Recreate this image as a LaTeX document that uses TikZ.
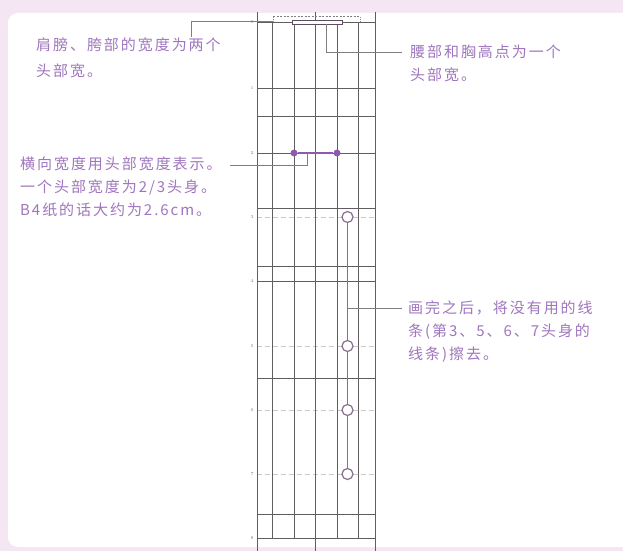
\documentclass[tikz,border=0pt]{standalone}
\usepackage{fontspec}
\newfontfamily\cjk[LetterSpace=13]{Noto Sans CJK SC}
\definecolor{bgpink}{RGB}{244,230,243}
\definecolor{txtpurple}{RGB}{160,118,190}
\definecolor{gridgray}{RGB}{95,95,95}
\definecolor{faintgray}{RGB}{200,200,200}
\definecolor{dotpurple}{RGB}{140,90,175}
\definecolor{ringpurple}{RGB}{135,110,140}
\tikzset{
  txt/.style={anchor=base west, inner sep=0pt, text=txtpurple, font=\cjk\fontsize{15}{17}\selectfont},
  gridline/.style={draw=gridgray, line width=0.8pt},
  faintline/.style={draw=faintgray, line width=0.7pt, dash pattern=on 5pt off 3pt},
  callout/.style={draw=gridgray!80, line width=0.7pt},
  rowlab/.style={anchor=east, inner sep=0pt, text=gray, font=\fontsize{4.5}{5}\selectfont},
  pdot/.style={circle, fill=dotpurple, inner sep=0pt, minimum size=7pt},
  ring/.style={circle, draw=ringpurple, fill=white, line width=1.2pt, inner sep=0pt, minimum size=11pt},
}
\begin{document}
\begin{tikzpicture}[x=1pt,y=-1pt]
\useasboundingbox (0,0) rectangle (623,551);
\clip (0,0) rectangle (623,551);
\fill[bgpink] (0,0) rectangle (623,551);
\fill[white, rounded corners=10pt] (8,13) rectangle (660,547);

% grid: horizontal solid lines
\foreach \yy in {22.5,88,116,153,208,266,281,378,514,538}
  \draw[gridline] (257,\yy) -- (375,\yy);
% faint lines at heads 3,5,6,7
\foreach \yy in {217,346,410,474}
  \draw[faintline] (257,\yy) -- (375,\yy);
% vertical lines
\foreach \xx in {257,315.5,375}
  \draw[gridline] (\xx,12) -- (\xx,551);
\foreach \xx in {272.5,294,337,358.5}
  \draw[gridline] (\xx,22.5) -- (\xx,538);

% row labels
\foreach \lab/\yy in {0/22.5,1/88,2/153,3/217,4/281,5/346,6/410,7/474,8/538}
  \node[rowlab] (r\lab) at (254,\yy) {\lab};

% top dashed line with end ticks
\coordinate (tdl) at (273,16);
\coordinate (tdr) at (360,16);
\draw[gridgray!80, line width=0.8pt, dash pattern=on 2pt off 1.5pt] (tdl) -- (tdr);
\draw[gridgray!70, line width=0.7pt, dash pattern=on 1pt off 1pt] (273,17) -- (273,22);
\draw[gridgray!70, line width=0.7pt, dash pattern=on 1pt off 1pt] (360,17) -- (360,22);

% waist / chest bar
\node[draw=ringpurple!70!black, fill=white, line width=0.9pt, inner sep=0pt,
      minimum width=50pt, minimum height=3.5pt] (bar) at (317,22.5) {};

% purple head-width segment
\node[pdot] (d1) at (294,153) {};
\node[pdot] (d2) at (337,153) {};
\draw[dotpurple, line width=1.2pt] (d1) -- (d2);

% rings on unused lines
\node[ring] (c3) at (347.5,217) {};
\node[ring] (c5) at (347.5,346) {};
\node[ring] (c6) at (347.5,410) {};
\node[ring] (c7) at (347.5,474) {};
\draw[ringpurple, line width=1pt] (c3) -- (c5);
\draw[ringpurple, line width=1pt] (c5) -- (c6);
\draw[ringpurple, line width=1pt] (c6) -- (c7);

% texts
\node[txt] (l1) at (36,51) {肩膀、胯部的宽度为两个};
\node[txt] (l2) at (36,76) {头部宽。};
\node[txt] (r1) at (410,58) {腰部和胸高点为一个};
\node[txt] (r2) at (410,81) {头部宽。};
\node[txt] (m1) at (20,169) {横向宽度用头部宽度表示。};
\node[txt] (m2) at (20,192) {一个头部宽度为2/3头身。};
\node[txt] (m3) at (20,215) {B4纸的话大约为2.6cm。};
\node[txt] (b1) at (408,313) {画完之后，将没有用的线};
\node[txt] (b2) at (408,336) {条(第3、5、6、7头身的};
\node[txt] (b3) at (408,359) {线条)擦去。};

% callouts
\coordinate (lc1) at (191,37);
\coordinate (lc2) at (191,21);
\coordinate (lc3) at (273,21);
\draw[callout] (lc1) -- (lc2) -- (lc3);

\coordinate (rc1) at (326,24);
\coordinate (rc2) at (326,52);
\coordinate (rc3) at (402,52);
\draw[callout] (rc1) -- (rc2) -- (rc3);

\coordinate (mc1) at (230,165);
\coordinate (mc2) at (307,165);
\draw[callout] (mc1) -- (mc2) -- (mc2 |- d1);

\coordinate (bc1) at (347.5,308);
\coordinate (bc2) at (402,308);
\draw[callout] (bc1) -- (bc2);
\end{tikzpicture}
\end{document}
